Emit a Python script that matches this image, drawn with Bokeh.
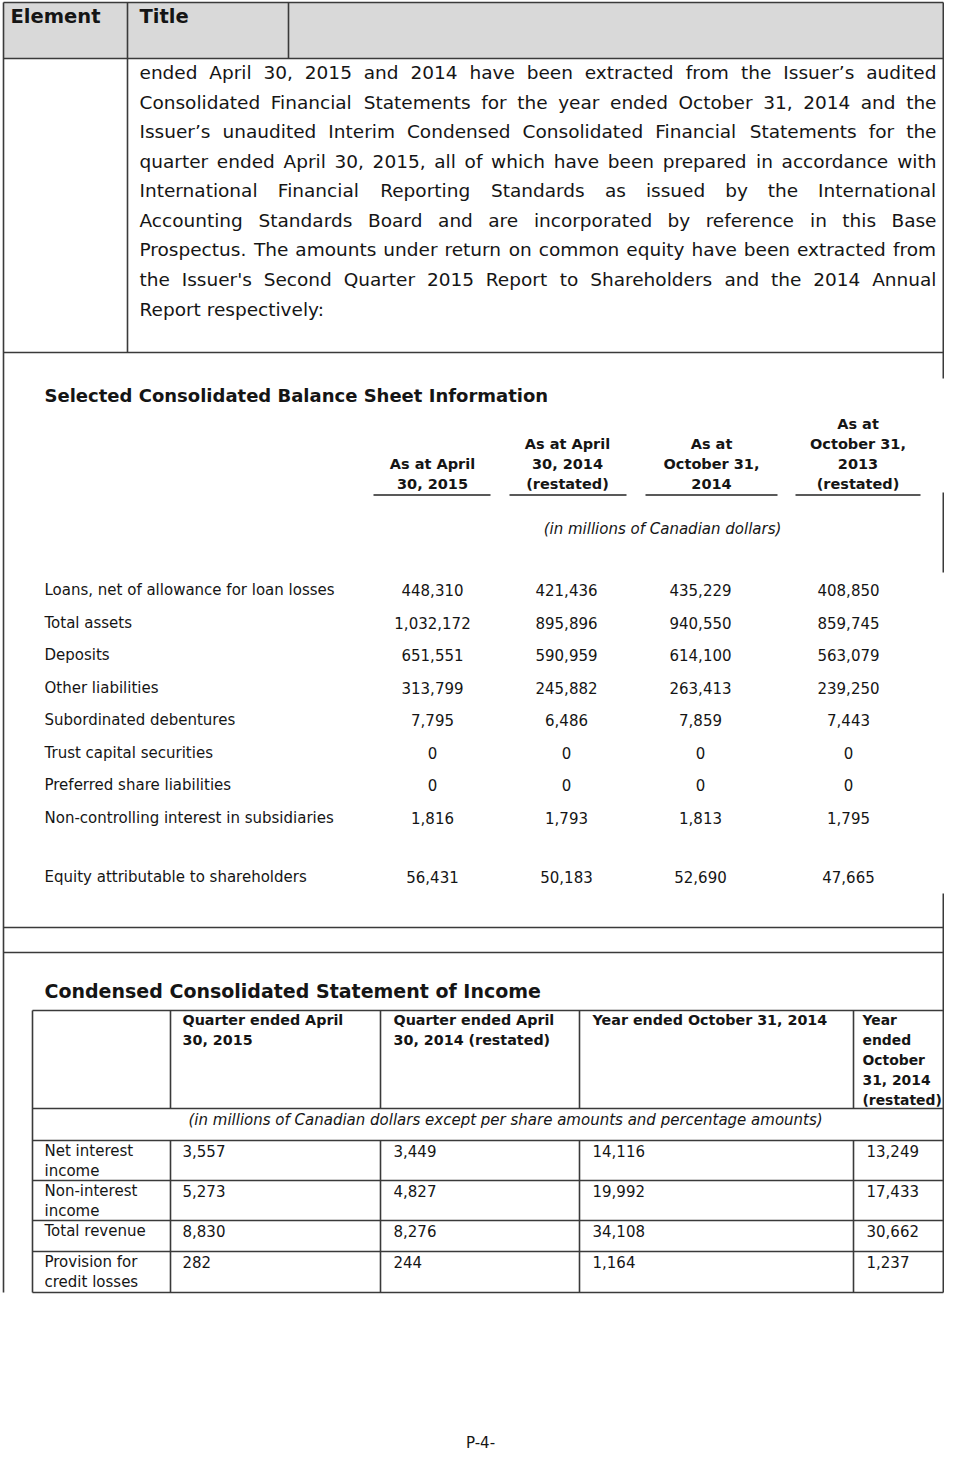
from bokeh.plotting import figure
from bokeh.models import Range1d, ColumnDataSource
from bokeh.core.properties import value
from bokeh.embed import file_html
from bokeh.resources import INLINE

# ---------------- data ----------------
header_cells = ["Element", "Title"]

paragraph = [
    "ended April 30, 2015 and 2014 have been extracted from the Issuer\u2019s audited",
    "Consolidated Financial Statements for the year ended October 31, 2014 and the",
    "Issuer\u2019s unaudited Interim Condensed Consolidated Financial Statements for the",
    "quarter ended April 30, 2015, all of which have been prepared in accordance with",
    "International Financial Reporting Standards as issued by the International",
    "Accounting Standards Board and are incorporated by reference in this Base",
    "Prospectus. The amounts under return on common equity have been extracted from",
    "the Issuer's Second Quarter 2015 Report to Shareholders and the 2014 Annual",
    "Report respectively:",
]

bs_title = "Selected Consolidated Balance Sheet Information"
bs_columns = [
    ["As at April", "30, 2015"],
    ["As at April", "30, 2014", "(restated)"],
    ["As at", "October 31,", "2014"],
    ["As at", "October 31,", "2013", "(restated)"],
]
bs_unit = "(in millions of Canadian dollars)"
bs_labels = [
    "Loans, net of allowance for loan losses",
    "Total assets",
    "Deposits",
    "Other liabilities",
    "Subordinated debentures",
    "Trust capital securities",
    "Preferred share liabilities",
    "Non-controlling interest in subsidiaries",
    "Equity attributable to shareholders",
]
bs_apr2015 = [448310, 1032172, 651551, 313799, 7795, 0, 0, 1816, 56431]
bs_apr2014 = [421436, 895896, 590959, 245882, 6486, 0, 0, 1793, 50183]
bs_oct2014 = [435229, 940550, 614100, 263413, 7859, 0, 0, 1813, 52690]
bs_oct2013 = [408850, 859745, 563079, 239250, 7443, 0, 0, 1795, 47665]

inc_title = "Condensed Consolidated Statement of Income"
inc_columns = [
    ["Quarter ended April", "30, 2015"],
    ["Quarter ended April", "30, 2014 (restated)"],
    ["Year ended October 31, 2014"],
    ["Year", "ended", "October", "31, 2014", "(restated)"],
]
inc_unit = "(in millions of Canadian dollars except per share amounts and percentage amounts)"
inc_labels = [["Net interest", "income"], ["Non-interest", "income"],
              ["Total revenue"], ["Provision for", "credit losses"]]
inc_q2015 = [3557, 5273, 8830, 282]
inc_q2014 = [3449, 4827, 8276, 244]
inc_y2014 = [14116, 19992, 34108, 1164]
inc_y2014r = [13249, 17433, 30662, 1237]

page_label = "P-4-"

# ---------------- figure ----------------
FONT = "DejaVu Sans"
INK = "#151515"
RULE = "#3a3a3a"
WID, HGT = 944, 1451

p = figure(width=WID, height=HGT, x_range=Range1d(0, WID), y_range=Range1d(HGT, 0),
           output_backend="svg", toolbar_location=None, min_border=0,
           x_axis_location=None, y_axis_location=None)
p.grid.visible = False
p.outline_line_color = None
p.background_fill_color = "white"


def txt(xs, ys, texts, size, style="normal", align="left"):
    src = ColumnDataSource(dict(x=xs, y=ys, t=texts))
    p.text(x="x", y="y", text="t", source=src, text_font=value(FONT),
           text_font_size=f"{size}px", text_font_style=style, text_align=align,
           text_baseline="middle", text_color=INK)


def segs(x0, y0, x1, y1, width=1.6, color=RULE):
    src = ColumnDataSource(dict(x0=x0, y0=y0, x1=x1, y1=y1))
    p.segment(x0="x0", y0="y0", x1="x1", y1="y1", source=src,
              line_color=color, line_width=width)


# approximate DejaVu Sans advance widths (em) for justification
W = {' ': .318, 'a': .613, 'b': .635, 'c': .550, 'd': .635, 'e': .615, 'f': .352, 'g': .635,
     'h': .634, 'i': .278, 'j': .278, 'k': .579, 'l': .278, 'm': .974, 'n': .634, 'o': .612,
     'p': .635, 'q': .635, 'r': .411, 's': .521, 't': .392, 'u': .634, 'v': .592, 'w': .818,
     'x': .592, 'y': .592, 'z': .525, 'A': .684, 'B': .686, 'C': .698, 'D': .770, 'E': .632,
     'F': .575, 'G': .775, 'H': .752, 'I': .295, 'J': .295, 'K': .656, 'L': .557, 'M': .863,
     'N': .748, 'O': .787, 'P': .603, 'Q': .787, 'R': .695, 'S': .635, 'T': .611, 'U': .732,
     'V': .684, 'W': .989, 'X': .685, 'Y': .611, 'Z': .685, ',': .318, '.': .318, ':': .337,
     "'": .275, '\u2019': .318, '-': .361, '(': .390, ')': .390}
for d in "0123456789":
    W[d] = .636


def tw(s, size):
    return sum(W.get(c, .6) for c in s) * size


RIGHT = WID - 1.2

# header band
p.quad(left=[3], right=[RIGHT], top=[2], bottom=[58], fill_color="#d9d9d9", line_color=None)
txt([10, 139], [16, 16], header_cells, 19.5, "bold")

# justified paragraph
PS = 18.5
X0, X1 = 139, 936
py = [72, 101.5, 131, 160.5, 190, 219.5, 249, 279, 309]
wx, wy, wt = [], [], []
for i, line in enumerate(paragraph):
    words = line.split(" ")
    if i == len(paragraph) - 1:
        wx.append(X0); wy.append(py[i]); wt.append(line)
        continue
    widths = [tw(w, PS) for w in words]
    gap = max((X1 - X0 - sum(widths)) / (len(words) - 1), 0.2 * PS)
    x = X0
    for w, ww in zip(words, widths):
        wx.append(x); wy.append(py[i]); wt.append(w)
        x += ww + gap
txt(wx, wy, wt, PS)

# balance sheet section
txt([44], [395], [bs_title], 18, "bold")
hc = [432, 567, 711, 857.5]
hx, hy, ht = [], [], []
for c, lines in zip(hc, bs_columns):
    start = 483 - 20 * (len(lines) - 1)
    for k, s in enumerate(lines):
        hx.append(c); hy.append(start + 20 * k); ht.append(s)
txt(hx, hy, ht, 14.5, "bold", "center")
segs([373, 509, 645, 795], [494.5] * 4, [490, 626, 777, 920], [494.5] * 4, 1.5, "#222")
txt([662], [528], [bs_unit], 15, "italic", "center")

rows_y = [589, 622, 654, 687, 719.5, 752, 784.5, 817, 876]
txt([44] * len(bs_labels), rows_y, bs_labels, 15)
vc = [432, 566, 700, 848]
vx, vy, vt = [], [], []
for c, col in zip(vc, [bs_apr2015, bs_apr2014, bs_oct2014, bs_oct2013]):
    for y, v in zip(rows_y, col):
        vx.append(c); vy.append(y); vt.append(f"{v:,}")
txt(vx, vy, vt, 15, "normal", "center")

# income statement section
txt([44], [990], [inc_title], 19, "bold")
ix = [182, 393, 592, 862]
for j, (c, lines) in enumerate(zip(ix, inc_columns)):
    ys = [1019.5 + 20 * k for k in range(len(lines))]
    txt([c] * len(lines), ys, lines, 14.3 if j < 3 else 13.9, "bold")
txt([188], [1119.5], [inc_unit], 15, "italic")

row_top = [1140, 1180, 1220, 1251]
lx, ly, lt = [], [], []
for t, lines in zip(row_top, inc_labels):
    for k, s in enumerate(lines):
        lx.append(44); ly.append(t + 10.5 + 20 * k); lt.append(s)
txt(lx, ly, lt, 15)
vcol = [182, 393, 592, 866]
dx, dy, dt = [], [], []
for c, col in zip(vcol, [inc_q2015, inc_q2014, inc_y2014, inc_y2014r]):
    for t, v in zip(row_top, col):
        dx.append(c); dy.append(t + 10.5); dt.append(f"{v:,}")
txt(dx, dy, dt, 15)

# rules: outer frame / section dividers
hy_full = [2, 58, 352, 927, 952]
segs([3] * len(hy_full), hy_full, [RIGHT] * len(hy_full), hy_full)
segs([3, 127, 288, RIGHT, RIGHT, RIGHT],
     [2, 2, 2, 2, 492, 893],
     [3, 127, 288, RIGHT, RIGHT, RIGHT],
     [1292, 352, 58, 378, 572, 1292])

# income table grid
th = [1010, 1108, 1140, 1180, 1220, 1251, 1292]
segs([32] * len(th), th, [RIGHT] * len(th), th)
vxs, vy0, vy1 = [32], [1010], [1292]
for x in [170, 380, 579, 853]:
    vxs += [x, x]; vy0 += [1010, 1140]; vy1 += [1108, 1292]
segs(vxs, vy0, vxs, vy1)

# page footer
txt([480], [1442], [page_label], 15, "normal", "center")

open("out.html", "w").write(file_html(p, INLINE))
